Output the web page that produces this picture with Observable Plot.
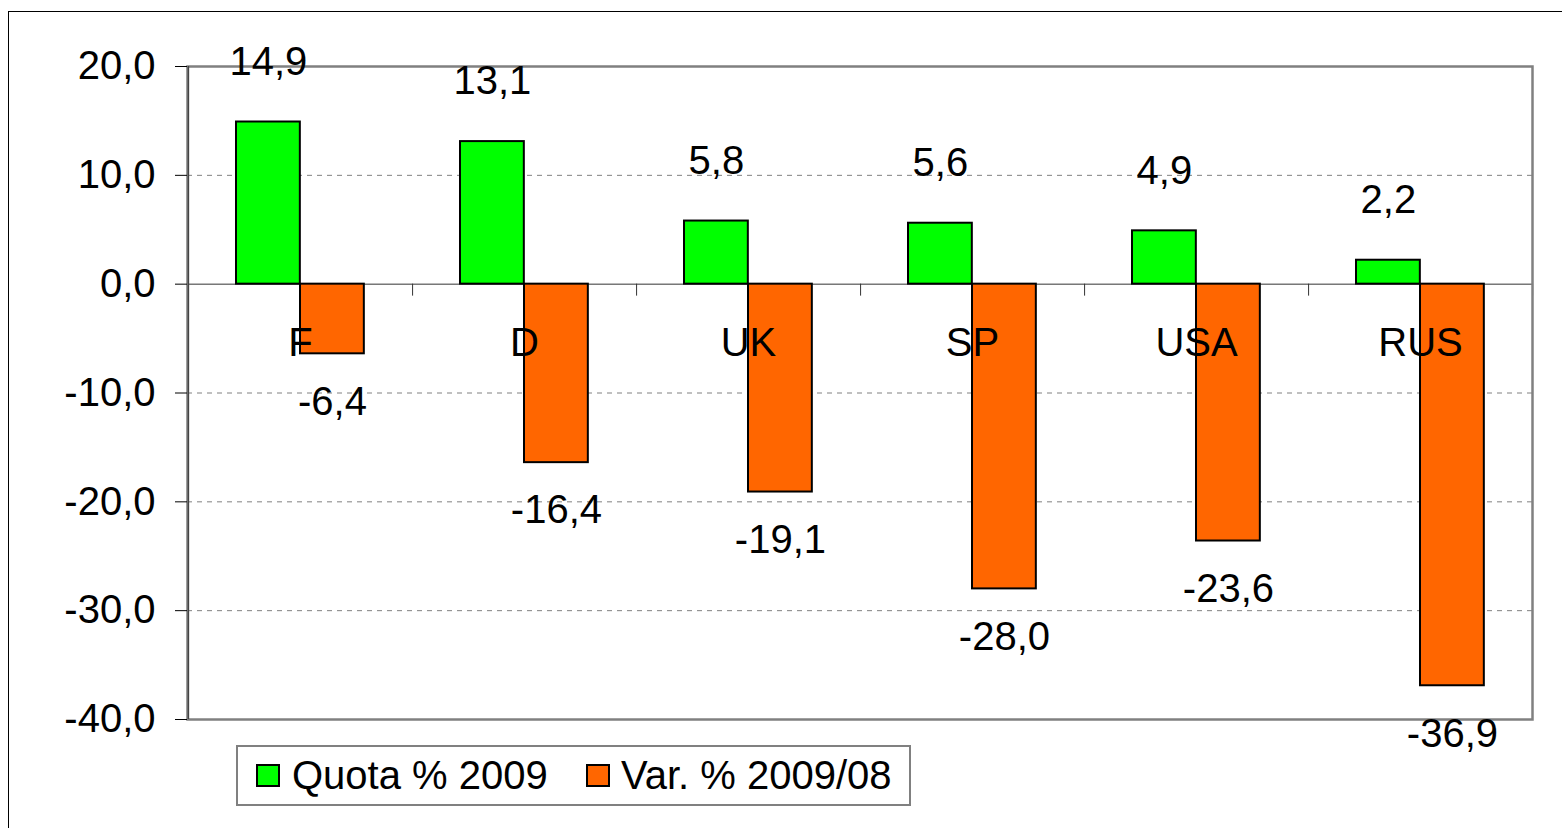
<!DOCTYPE html>
<html><head><meta charset="utf-8">
<script src="https://cdn.jsdelivr.net/npm/d3@7"></script>
<script src="https://cdn.jsdelivr.net/npm/@observablehq/plot@0.6"></script>
<style>
html,body{margin:0;padding:0;background:#fff;overflow:hidden}
#wrap{position:relative;width:1562px;height:828px;overflow:hidden;font-family:"Liberation Sans",Arial,sans-serif}
#border{position:absolute;left:8px;top:11px;width:1600px;height:900px;border:1.5px solid #000;box-sizing:border-box}
#chart{position:absolute;left:0;top:0}
#chart svg{overflow:visible;background:transparent}
#legend{position:absolute;left:236px;top:745px;width:675px;height:61px;border:2px solid #808080;box-sizing:border-box;background:#fff}
#legend .sw{position:absolute;top:17px;width:24px;height:23px;border:2px solid #000;box-sizing:border-box}
#legend .lb{position:absolute;top:5px;font-size:40px;line-height:46px;color:#000;white-space:nowrap}
</style></head>
<body>
<div id="wrap"><div id="border"></div><div id="chart"></div><div id="legend"></div></div>
<script>
const categories = ["F","D","UK","SP","USA","RUS"];
const quota2009 = [14.9,13.1,5.8,5.6,4.9,2.2];
const var200908 = [-6.4,-16.4,-19.1,-28.0,-23.6,-36.9];
const yTicks = [20,10,0,-10,-20,-30,-40];
const gridTicks = [10,-10,-20,-30];
const seriesNames = ["Quota % 2009","Var. % 2009/08"];
const seriesColors = ["#00FF00","#FF6600"];

const W=1562,H=828,mL=187,mR=30,mT=66,mB=109;
const step=(W-mL-mR)/categories.length;
const barW=64, outer=48;
const fmt = d => d.toFixed(1).replace(".",",");

const quota = categories.map((c,i)=>({cat:c,value:quota2009[i]}));
const vari = categories.map((c,i)=>({cat:c,value:var200908[i]}));

const chart = Plot.plot({
  width:W,height:H,marginLeft:mL,marginRight:mR,marginTop:mT,marginBottom:mB,
  style:{fontFamily:"Liberation Sans, Arial, sans-serif",fontSize:"40px",overflow:"visible",background:"transparent",color:"#000"},
  x:{domain:categories,padding:0,axis:null},
  y:{domain:[-40,20],axis:null},
  marks:[
    Plot.ruleY(gridTicks,{stroke:"#808080",strokeWidth:1,strokeDasharray:"5,5"}),
    Plot.ruleY([0],{stroke:"#333",strokeWidth:1}),
    Plot.ruleX(categories,{x:d=>d,y1:0,y2:-1.1,dx:step/2,stroke:"#333",strokeWidth:1}),
    Plot.barY(quota,{x:"cat",y:"value",fill:seriesColors[0],stroke:"#000",strokeWidth:2,insetLeft:outer,insetRight:step-outer-barW}),
    Plot.barY(vari,{x:"cat",y:"value",fill:seriesColors[1],stroke:"#000",strokeWidth:2,insetLeft:outer+barW,insetRight:step-outer-2*barW}),
    Plot.text(categories,{x:d=>d,y:0,dy:59,text:d=>d,fontSize:40,fill:"#000"}),
    Plot.frame({stroke:"#808080",strokeWidth:2.5}),
    Plot.ruleX([categories[0]],{x:d=>d,y1:-40,y2:20,dx:-step/2,stroke:"#444",strokeWidth:1.5}),
    Plot.axisY(yTicks,{anchor:"left",label:null,tickSize:12,tickPadding:20,tickFormat:fmt,fontSize:40,stroke:"#000",fill:"#000"}),
    Plot.text(quota,{x:"cat",y:"value",text:d=>fmt(d.value),dx:-(step/2-outer-barW/2),dy:-60,fontSize:40,fill:"#000"}),
    Plot.text(vari,{x:"cat",y:"value",text:d=>fmt(d.value),dx:(outer+1.5*barW)-step/2,dy:48,fontSize:40,fill:"#000"})
  ]
});
document.getElementById("chart").appendChild(chart);

const legend = document.getElementById("legend");
const swLeft=[18,348], lbLeft=[54,383];
seriesNames.forEach((n,i)=>{
  const s=document.createElement("div");s.className="sw";s.style.left=swLeft[i]+"px";s.style.background=seriesColors[i];legend.appendChild(s);
  const t=document.createElement("div");t.className="lb";t.style.left=lbLeft[i]+"px";t.textContent=n;legend.appendChild(t);
});
</script>
</body></html>
